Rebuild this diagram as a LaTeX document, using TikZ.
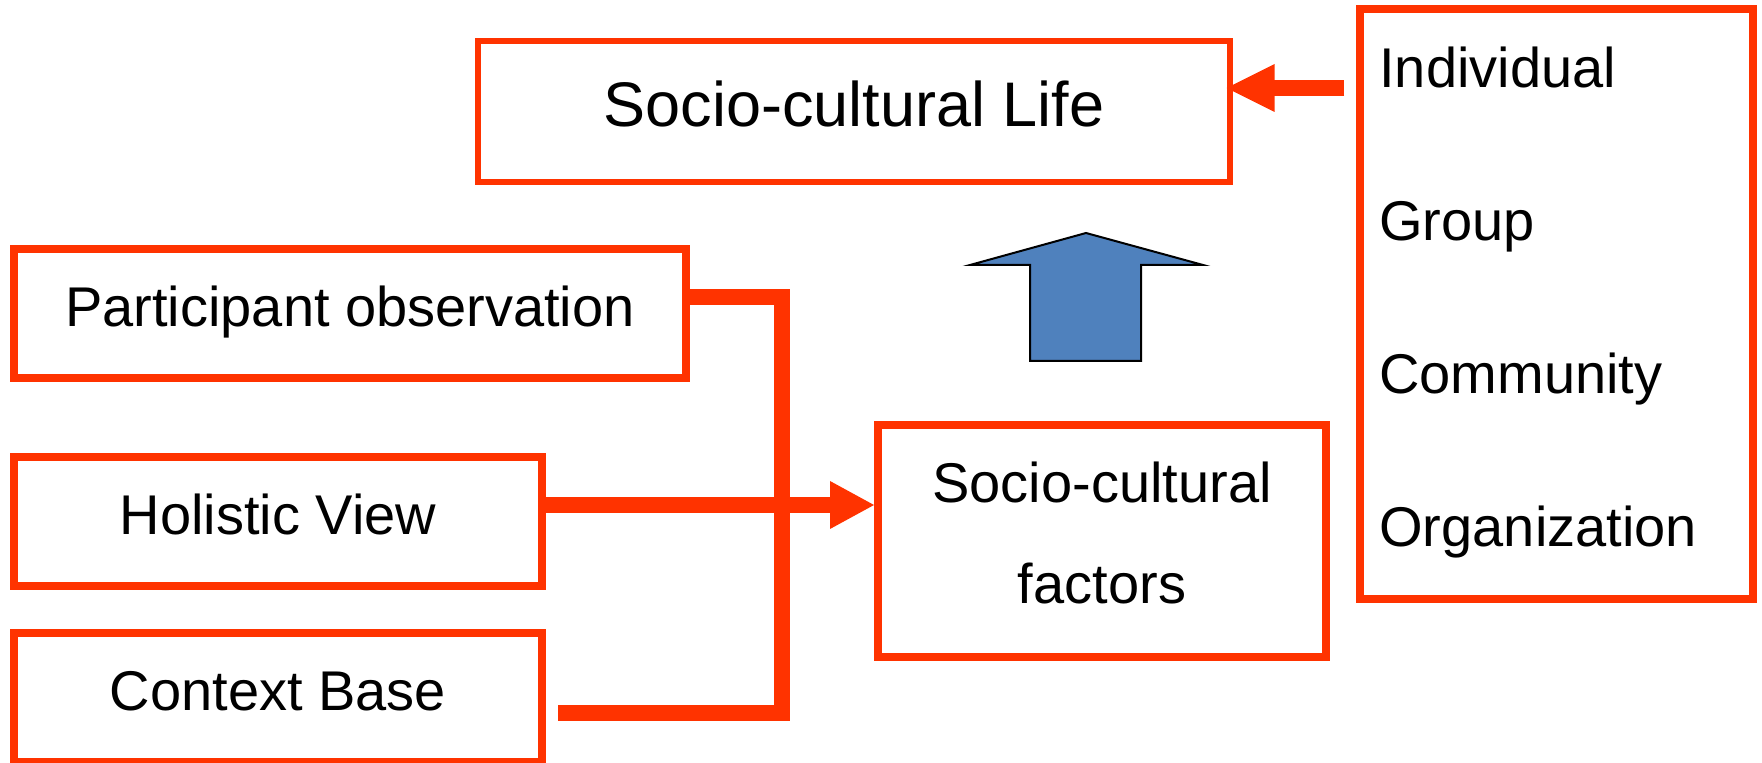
\documentclass[tikz,border=0pt]{standalone}
\usepackage{fontspec}
\setmainfont{Liberation Sans}
\usetikzlibrary{arrows.meta,calc}
\definecolor{rd}{RGB}{255,51,0}
\definecolor{bl}{RGB}{79,129,189}
\begin{document}
\begin{tikzpicture}[x=0.5pt,y=-0.5pt,
  box/.style={draw=rd, line width=4pt, inner sep=0pt, fill=white,
    font=\fontsize{28}{50.5}\selectfont, text height=20.5pt, text depth=7pt},
  conn/.style={draw=rd, line width=8pt},
  item/.style={anchor=base west, inner sep=0pt, font=\fontsize{28}{34}\selectfont},
  bigarrow/.style={fill=bl, draw=black, line width=1pt}]
\useasboundingbox (0,0) rectangle (1762,763);
% boxes
\node[box, line width=3.25pt, minimum width=376pt, minimum height=70.5pt,
  font=\fontsize{31.5}{38}\selectfont, text height=23pt, text depth=7.5pt]
  (life) at (854,111.5) {Socio-cultural Life};
\node[box, minimum width=336pt, minimum height=64.5pt] (part) at (350,313.5) {Participant observation};
\node[box, minimum width=264pt, minimum height=64.5pt] (hol) at (278,521.5) {Holistic View};
\node[box, minimum width=264pt, minimum height=64.5pt] (ctx) at (278,697.5) {Context Base};
\node[box, minimum width=224pt, minimum height=116pt, text height=20.5pt, text depth=58.5pt]
  (fac) at (1102,541) {\begin{tabular}[t]{@{}c@{}}Socio-cultural\\factors\end{tabular}};
\node[box, minimum width=196.5pt, minimum height=295pt] (rb) at (1556.5,304) {};
\node[item] (ind) at (1379,88) {Individual};
\node[item] (grp) at (1379,241) {Group};
\node[item] (com) at (1379,394) {Community};
\node[item] (org) at (1379,547) {Organization};
% connectors
\coordinate (j1) at (782,297);
\coordinate (j2) at (782,713);
\coordinate (ce) at (558,713);
\draw[conn] (part.east |- j1) -- (j1) -- (j2) -- (ce);
\coordinate (ha) at (0,505);
\draw[conn, -{Triangle[length=22pt,width=24pt,line width=0pt]}] (hol.east |- ha) -- (fac.west |- ha);
\draw[conn] (hol.east |- ha) -- ($(fac.west |- ha)+(-30,0)$);
\coordinate (ra) at (0,88);
\draw[conn, -{Triangle[length=24pt,width=24pt,line width=0pt]}]
  ($(rb.west |- ra)+(-12,0)$) -- ($(life.east |- ra)+(-6.6,0)$);
\draw[conn] ($(rb.west |- ra)+(-12,0)$) -- ($(life.east |- ra)+(30,0)$);
% blue block arrow
\draw[bigarrow] (1086,233) -- (1203,265) -- (1141,265) -- (1141,361) -- (1030,361)
  -- (1030,265) -- (970,265) -- cycle;
\end{tikzpicture}
\end{document}
